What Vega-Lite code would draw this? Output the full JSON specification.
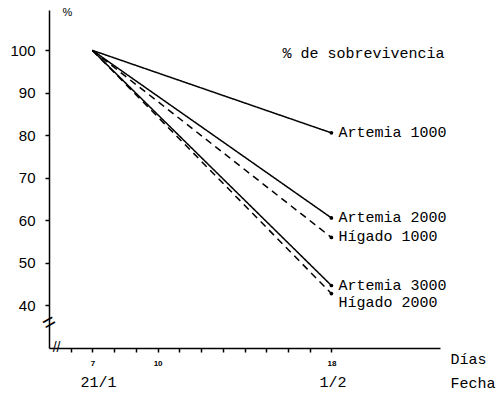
{
  "$schema": "https://vega.github.io/schema/vega-lite/v6.json",
  "width": 391,
  "height": 338,
  "autosize": {"type": "none"},
  "padding": {"left": 49, "top": 10, "right": 60, "bottom": 47},
  "background": "white",
  "config": {"view": {"stroke": null}, "font": "Liberation Sans"},
  "datasets": {
    "series": [
      {"serie": "Artemia 1000", "dia": 7, "sobrevivencia": 100},
      {"serie": "Artemia 1000", "dia": 18, "sobrevivencia": 80.6},
      {"serie": "Artemia 2000", "dia": 7, "sobrevivencia": 100},
      {"serie": "Artemia 2000", "dia": 18, "sobrevivencia": 60.6},
      {"serie": "Hígado 1000", "dia": 7, "sobrevivencia": 100},
      {"serie": "Hígado 1000", "dia": 18, "sobrevivencia": 56},
      {"serie": "Artemia 3000", "dia": 7, "sobrevivencia": 100},
      {"serie": "Artemia 3000", "dia": 18, "sobrevivencia": 44.7},
      {"serie": "Hígado 2000", "dia": 7, "sobrevivencia": 100},
      {"serie": "Hígado 2000", "dia": 18, "sobrevivencia": 42.8}
    ],
    "fechas": [
      {"dia": 7, "sobrevivencia": 30, "fecha": "21/1"},
      {"dia": 18, "sobrevivencia": 30, "fecha": "1/2"}
    ],
    "notas": [
      {"dia": 15.75, "sobrevivencia": 99.5, "t": "% de sobrevivencia"}
    ],
    "corte_x": [
      {"dia": 5.35, "sobrevivencia": 30, "t": "//"}
    ],
    "corte_y": [
      {"dia": 5.0, "sobrevivencia": 36, "t": "="}
    ]
  },
  "encoding": {
    "x": {
      "field": "dia", "type": "quantitative",
      "scale": {"domain": [5, 23], "nice": false, "zero": false},
      "axis": {
        "values": [6, 7, 8, 9, 10, 11, 12, 13, 14, 15, 16, 17, 18],
        "labelExpr": "datum.value == 7 || datum.value == 10 || datum.value == 18 ? datum.label : ''",
        "grid": false, "tickSize": 4, "tickColor": "black", "tickWidth": 1.5,
        "domainColor": "black", "domainWidth": 1.5,
        "labelFontSize": 8, "labelFontWeight": "bold", "labelColor": "black", "labelPadding": 7,
        "title": ["Días", "Fecha"], "titleFont": "Liberation Mono", "titleFontSize": 15,
        "titleFontWeight": "normal", "titleColor": "black", "titleLineHeight": 24,
        "titleAlign": "left", "titleBaseline": "middle", "titleAnchor": "start",
        "titleX": 401, "titleY": 10
      }
    },
    "y": {
      "field": "sobrevivencia", "type": "quantitative",
      "scale": {"domain": [30, 109.5], "nice": false, "zero": false},
      "axis": {
        "values": [40, 50, 60, 70, 80, 90, 100],
        "grid": false, "tickSize": 4, "tickColor": "black", "tickWidth": 1.5,
        "domainColor": "black", "domainWidth": 1.5,
        "labelFontSize": 15, "labelColor": "black", "labelPadding": 10,
        "title": "%", "titleAngle": 0, "titleX": 18, "titleY": 2,
        "titleFontSize": 11, "titleFontWeight": "normal", "titleColor": "black",
        "titleAlign": "center", "titleBaseline": "middle"
      }
    }
  },
  "layer": [
    {
      "data": {"name": "series"},
      "mark": {"type": "line", "color": "black", "strokeWidth": 1.5},
      "encoding": {
        "detail": {"field": "serie"},
        "strokeDash": {
          "field": "serie", "type": "nominal",
          "scale": {
            "domain": ["Artemia 1000", "Artemia 2000", "Artemia 3000", "Hígado 1000", "Hígado 2000"],
            "range": [[1, 0], [1, 0], [1, 0], [7, 5], [7, 5]]
          },
          "legend": null
        }
      }
    },
    {
      "data": {"name": "series"},
      "transform": [{"filter": "datum.dia == 18"}],
      "mark": {"type": "circle", "color": "black", "size": 14, "opacity": 1}
    },
    {
      "data": {"name": "series"},
      "transform": [{"filter": "datum.dia == 18 && datum.serie != 'Hígado 2000'"}],
      "mark": {"type": "text", "align": "left", "baseline": "middle", "dx": 7, "dy": -1,
               "font": "Liberation Mono", "fontSize": 15, "color": "black"},
      "encoding": {"text": {"field": "serie"}}
    },
    {
      "data": {"name": "series"},
      "transform": [{"filter": "datum.dia == 18 && datum.serie == 'Hígado 2000'"}],
      "mark": {"type": "text", "align": "left", "baseline": "middle", "dx": 7, "dy": 8,
               "font": "Liberation Mono", "fontSize": 15, "color": "black"},
      "encoding": {"text": {"field": "serie"}}
    },
    {
      "data": {"name": "notas"},
      "mark": {"type": "text", "align": "left", "baseline": "middle",
               "font": "Liberation Mono", "fontSize": 15, "color": "black"},
      "encoding": {"text": {"field": "t"}}
    },
    {
      "data": {"name": "fechas"},
      "mark": {"type": "text", "align": "left", "baseline": "middle", "dx": -12, "dy": 34,
               "font": "Liberation Mono", "fontSize": 15, "color": "black"},
      "encoding": {"text": {"field": "fecha"}}
    },
    {
      "data": {"name": "corte_x"},
      "mark": {"type": "text", "align": "center", "baseline": "middle",
               "font": "Liberation Sans", "fontSize": 14, "color": "black"},
      "encoding": {"text": {"field": "t"}}
    },
    {
      "data": {"name": "corte_y"},
      "mark": {"type": "text", "align": "center", "baseline": "middle", "angle": 330,
               "font": "Liberation Sans", "fontSize": 22, "color": "black"},
      "encoding": {"text": {"field": "t"}}
    }
  ]
}
